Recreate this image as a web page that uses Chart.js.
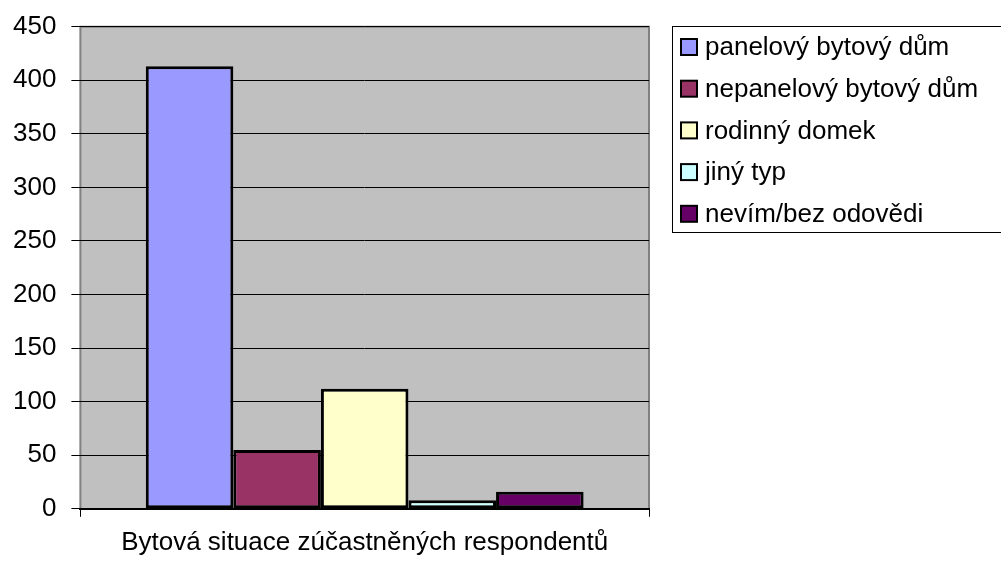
<!DOCTYPE html>
<html>
<head>
<meta charset="utf-8">
<script src="https://cdn.jsdelivr.net/npm/chart.js@4/dist/chart.umd.min.js"></script>
<style>
  html, body { margin: 0; padding: 0; background: #fff; }
  #wrap { width: 1001px; height: 562px; }
</style>
</head>
<body>
<div id="wrap"><canvas id="c" width="1001" height="562"></canvas></div>
<script>
const categories = [""];
const seriesNames = ["panelový bytový dům", "nepanelový bytový dům", "rodinný domek", "jiný typ", "nevím/bez odovědi"];
const seriesValues = [[413], [55], [112], [8], [16]];
const seriesColors = ["#9999ff", "#993366", "#ffffcc", "#ccffff", "#660066"];
const yTicks = [0, 50, 100, 150, 200, 250, 300, 350, 400, 450];
const xTitle = "Bytová situace zúčastněných respondentů";

const FONT = "'Liberation Sans', Arial, sans-serif";
const FSIZE = 26;

const plotBg = {
  id: "plotBg",
  beforeDraw(chart) {
    const { ctx, chartArea: a } = chart;
    ctx.save();
    ctx.fillStyle = "#c0c0c0";
    ctx.fillRect(a.left, a.top, a.right - a.left, a.bottom - a.top);
    ctx.strokeStyle = "#808080";
    ctx.lineWidth = 2;
    ctx.beginPath();
    ctx.moveTo(a.left, a.bottom);
    ctx.lineTo(a.left, a.top);
    ctx.lineTo(a.right, a.top);
    ctx.lineTo(a.right, a.bottom);
    ctx.stroke();
    ctx.restore();
  }
};

// legend drawn by hand so it can have the framed box of the original
const boxLegend = {
  id: "boxLegend",
  afterDraw(chart) {
    const { ctx } = chart;
    const x0 = 672, y0 = 26, w = 345, h = 206, row = 41.7;
    ctx.save();
    ctx.fillStyle = "#fff";
    ctx.fillRect(x0, y0, w, h);
    ctx.strokeStyle = "#000";
    ctx.lineWidth = 1;
    ctx.strokeRect(x0 + 0.5, y0 + 0.5, w, h);
    ctx.font = FSIZE + "px " + FONT;
    ctx.textBaseline = "middle";
    chart.data.datasets.forEach((ds, i) => {
      const cy = y0 + 21 + i * row;
      ctx.fillStyle = ds.backgroundColor;
      ctx.fillRect(x0 + 9, cy - 8, 16, 16);
      ctx.lineWidth = 2;
      ctx.strokeStyle = "#000";
      ctx.strokeRect(x0 + 9, cy - 8, 16, 16);
      ctx.fillStyle = "#000";
      ctx.fillText(ds.label, x0 + 33, cy + 1);
    });
    ctx.restore();
  }
};

new Chart(document.getElementById("c"), {
  type: "bar",
  data: {
    labels: categories,
    datasets: seriesNames.map((name, i) => ({
      label: name,
      data: seriesValues[i],
      backgroundColor: seriesColors[i],
      borderColor: "#000",
      borderWidth: 3,
      borderSkipped: false
    }))
  },
  options: {
    responsive: false,
    animation: false,
    events: [],
    layout: { padding: { top: 0, right: 352, left: -2, bottom: 4 } },
    datasets: { bar: { categoryPercentage: 0.77, barPercentage: 1 } },
    plugins: { legend: { display: false }, tooltip: { enabled: false } },
    scales: {
      x: {
        grid: { drawOnChartArea: false, offset: true, color: "#000", tickLength: 8, lineWidth: 1 },
        border: { color: "#000", width: 2 },
        ticks: { display: false },
        title: { display: true, text: xTitle, color: "#000", font: { family: FONT, size: FSIZE }, padding: { top: 10, bottom: 0 } }
      },
      y: {
        min: 0,
        max: 450,
        afterBuildTicks(scale) { scale.ticks = yTicks.map(v => ({ value: v })); },
        grid: { color: "#000", tickLength: 9, lineWidth: 1 },
        border: { display: false },
        ticks: { color: "#000", padding: 15, font: { family: FONT, size: FSIZE, lineHeight: 0.9 } }
      }
    }
  },
  plugins: [plotBg, boxLegend]
});
</script>
</body>
</html>
